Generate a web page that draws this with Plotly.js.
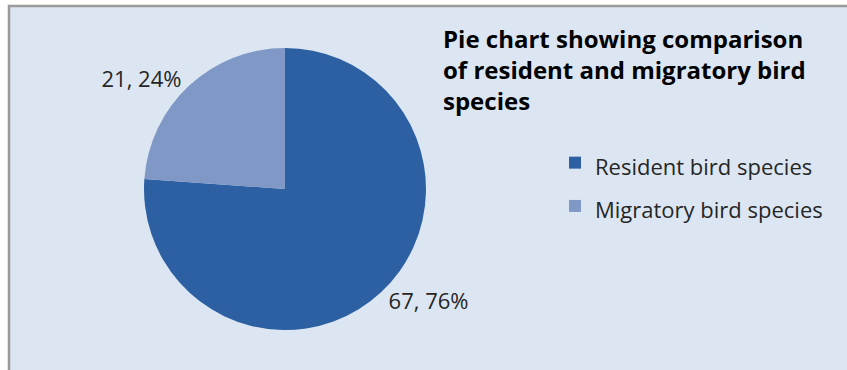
<!DOCTYPE html>
<html>
<head>
<meta charset="utf-8">
<script src="https://cdn.plot.ly/plotly-3.0.1.min.js"></script>
<style>
  html, body { margin: 0; padding: 0; background: #ffffff; }
  #chart { width: 847px; height: 370px; }
</style>
</head>
<body>
<div id="chart"></div>
<script>
const categories = ["Resident bird species", "Migratory bird species"];
const speciesCounts = [67, 21];
const sliceColors = ["#2d60a2", "#7f98c6"];
const titleText = "Pie chart showing comparison<br>of resident and migratory bird<br>species";

const W = 847, H = 370;
const cx = 285, cy = 189, r = 141;
const FONT = "'Open Sans', Lato, sans-serif";

const trace = {
  type: "pie",
  labels: categories.map(c => '<span style="font-size:22px">' + c + '</span>'),
  values: speciesCounts,
  sort: false,
  direction: "clockwise",
  rotation: 0,
  marker: { colors: sliceColors, line: { width: 0 } },
  texttemplate: "%{value}, %{percent:.0%}",
  textposition: "outside",
  textfont: { family: FONT, size: 22, color: "#262626" },
  hoverinfo: "value+percent",
  domain: {
    x: [(cx - r) / W, (cx + r) / W],
    y: [(H - cy - r) / H, (H - cy + r) / H]
  }
};

const layout = {
  width: W,
  height: H,
  margin: { l: 0, r: 0, t: 0, b: 0 },
  paper_bgcolor: "#ffffff",
  font: { family: FONT, color: "#262626" },
  showlegend: true,
  title: {
    text: titleText,
    font: { family: FONT, size: 24, weight: "bold", color: "#000000" },
    xref: "paper", yref: "paper",
    x: 443 / W, xanchor: "left",
    y: 1 - 48 / H, yanchor: "top"
  },
  legend: {
    x: 555 / W, xanchor: "left",
    y: 1 - 136 / H, yanchor: "top",
    bgcolor: "rgba(0,0,0,0)",
    font: { family: FONT, size: 31, color: "#262626" }
  },
  shapes: [{
    type: "rect", xref: "paper", yref: "paper", layer: "below",
    x0: 9 / W, x1: 1.05, y0: -0.05, y1: 1 - 6 / H,
    fillcolor: "#dce6f2",
    line: { color: "#9a9a9a", width: 2.5 }
  }]
};

Plotly.newPlot("chart", [trace], layout, { displayModeBar: false, responsive: false });
</script>
</body>
</html>
